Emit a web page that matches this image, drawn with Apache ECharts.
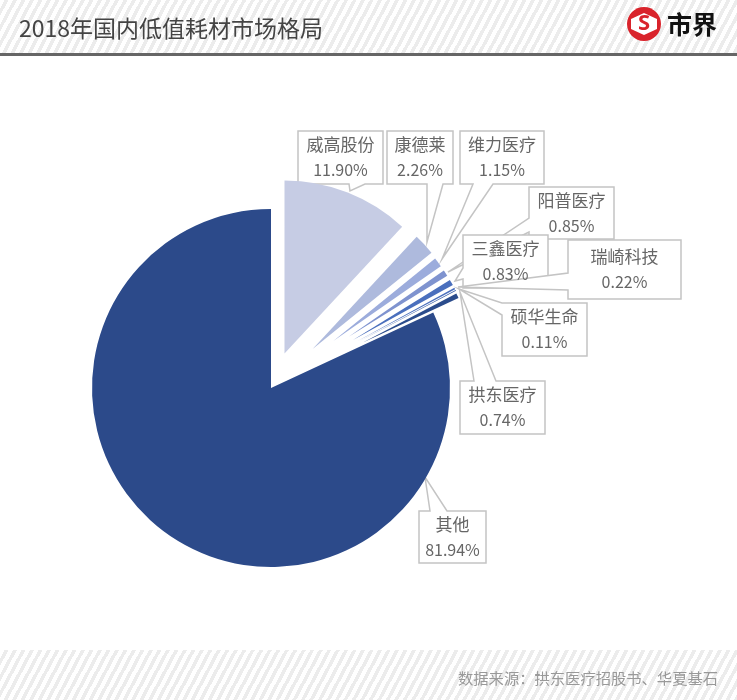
<!DOCTYPE html>
<html>
<head>
<meta charset="utf-8">
<title>2018年国内低值耗材市场格局</title>
<script src="https://cdn.jsdelivr.net/npm/echarts@6/dist/echarts.min.js"></script>
<style>
    html, body { margin: 0; padding: 0; background: #fff; }
    .band {
        position: absolute; left: 0; width: 737px;
        background: repeating-linear-gradient(118deg, #fff 0, #fff 4px, #ececec 4px, #ececec 7.5px);
    }
    #head { top: 0; height: 53px; border-bottom: 3px solid #666; }
    #foot { top: 650px; height: 50px; }
    #main { position: absolute; left: 0; top: 0; width: 737px; height: 700px; }
</style>
</head>
<body>
<div id="head" class="band"></div>
<div id="foot" class="band"></div>
<div id="main"></div>
<script>
var titleText = '2018年国内低值耗材市场格局';
var sourceText = '数据来源：拱东医疗招股书、华夏基石';
var logoText = '市界';

// 数据
var sliceNames = ['威高股份', '康德莱', '维力医疗', '阳普医疗', '三鑫医疗', '瑞崎科技', '硕华生命', '拱东医疗', '其他'];
var sliceValues = [11.90, 2.26, 1.15, 0.85, 0.83, 0.22, 0.11, 0.74, 81.94];

// 样式
var sliceColors = ['#c6cce4', '#aebadd', '#9cacdc', '#7f93cf', '#4a6fbd', '#4a6fbd', '#3a5fa8', '#2b4c8c', '#2c4a8a'];
var sliceOffsets = [37, 57, 78, 93, 95, 98, 100, 102, 0];
var sliceRadius = [173, 153, 131, 116, 114, 111, 109, 106, 179];
var pieX = 271, pieY = 388;

// 标注框: box = x,y,w,h; side 为指针所在边; joints 按顺时针写
var callouts = [
    { box: [298, 131, 85, 53], side: 'bottom', joints: [[365, 184], [350, 191], [349, 184]] },
    { box: [387, 131, 66, 53], side: 'bottom', joints: [[443, 184], [427, 242], [427, 184]] },
    { box: [460, 131, 84, 53], side: 'bottom', joints: [[493, 184], [442, 259], [473, 184]] },
    { box: [529, 187, 85, 52], side: 'left', joints: [[529, 232], [448, 272], [529, 218]] },
    { box: [463, 235, 85, 53], side: 'left', joints: [[463, 279], [455, 281], [463, 268]] },
    { box: [568, 240, 113, 59], side: 'left', joints: [[568, 290], [458, 287], [568, 273]] },
    { box: [502, 303, 85, 53], side: 'left', joints: [[502, 315], [459, 289], [502, 303]] },
    { box: [460, 381, 85, 53], side: 'top', joints: [[474, 381], [460, 292], [496, 381]] },
    { box: [419, 511, 67, 52], side: 'top', joints: [[430, 511], [425, 477], [447, 511]] }
];

function calloutPoints(c) {
    var x = c.box[0], y = c.box[1], r = x + c.box[2], b = y + c.box[3];
    var pts = [[x, y]];
    if (c.side === 'top') pts = pts.concat(c.joints);
    pts.push([r, y]);
    pts.push([r, b]);
    if (c.side === 'bottom') pts = pts.concat(c.joints);
    pts.push([x, b]);
    if (c.side === 'left') pts = pts.concat(c.joints);
    return pts;
}

var total = sliceValues.reduce(function (a, b) { return a + b; }, 0);
var series = [];
var cum = 0;
sliceValues.forEach(function (v, i) {
    var start = cum / total * 360;
    var sweep = v / total * 360;
    var mid = (start + sweep / 2) * Math.PI / 180;
    var c = callouts[i];
    series.push({
        type: 'pie',
        silent: true,
        animation: false,
        z: 2,
        startAngle: 90 - start,
        clockwise: true,
        minAngle: 0,
        radius: [0, sliceRadius[i]],
        center: [pieX + sliceOffsets[i] * Math.sin(mid), pieY - sliceOffsets[i] * Math.cos(mid)],
        labelLine: { show: false },
        labelLayout: function () {
            return {
                x: c.box[0] + c.box[2] / 2,
                y: c.box[1] + c.box[3] / 2,
                align: 'center',
                verticalAlign: 'middle'
            };
        },
        data: [
            {
                name: sliceNames[i],
                value: v,
                itemStyle: { color: sliceColors[i] },
                label: {
                    show: true,
                    position: 'outside',
                    formatter: '{n|' + sliceNames[i] + '}\n{p|' + v.toFixed(2) + '%}',
                    rich: {
                        n: { color: '#666', fontFamily: 'Noto Sans CJK SC', fontSize: 17, lineHeight: 25, align: 'center' },
                        p: { color: '#666', fontFamily: 'Noto Sans CJK SC', fontSize: 16, lineHeight: 25, align: 'center' }
                    }
                }
            },
            {
                name: '',
                value: total - v,
                itemStyle: { color: 'transparent' },
                label: { show: false }
            }
        ]
    });
    cum += v;
});

var graphics = callouts.map(function (c) {
    return {
        type: 'polygon',
        z: 1,
        silent: true,
        shape: { points: calloutPoints(c) },
        style: { fill: '#fff', stroke: '#c4c4c4', lineWidth: 1.5 }
    };
});

// 标题、来源、logo
graphics.push({
    type: 'text', z: 5, silent: true, x: 19, y: 28,
    style: { text: titleText, fill: '#444', fontSize: 23, fontFamily: 'Noto Sans CJK SC', verticalAlign: 'middle' }
});
graphics.push({
    type: 'text', z: 5, silent: true, x: 458, y: 678,
    style: { text: sourceText, fill: '#999', fontSize: 15.3, fontFamily: 'Noto Sans CJK SC', verticalAlign: 'middle' }
});
graphics.push({
    type: 'ellipse', z: 5, silent: true,
    shape: { cx: 644, cy: 24, rx: 17, ry: 17 },
    style: { fill: '#d9232b' }
});
graphics.push({
    type: 'polygon', z: 6, silent: true,
    shape: { points: [[644, 13], [657, 19], [657, 29], [644, 35], [631, 29], [631, 19]] },
    style: { fill: '#fff' }
});
graphics.push({
    type: 'text', z: 7, silent: true, x: 644, y: 24,
    style: { text: 'S', fill: '#d9232b', fontSize: 22, fontWeight: 'bold', fontFamily: 'Noto Sans', align: 'center', verticalAlign: 'middle' }
});
graphics.push({
    type: 'text', z: 5, silent: true, x: 667, y: 24,
    style: { text: logoText, fill: '#111', fontSize: 25, fontWeight: 'bold', fontFamily: 'Noto Sans CJK SC', verticalAlign: 'middle' }
});

var chart = echarts.init(document.getElementById('main'), null, { renderer: 'canvas' });
chart.setOption({
    backgroundColor: 'transparent',
    animation: false,
    tooltip: { show: false },
    graphic: graphics,
    series: series
});
</script>
</body>
</html>
